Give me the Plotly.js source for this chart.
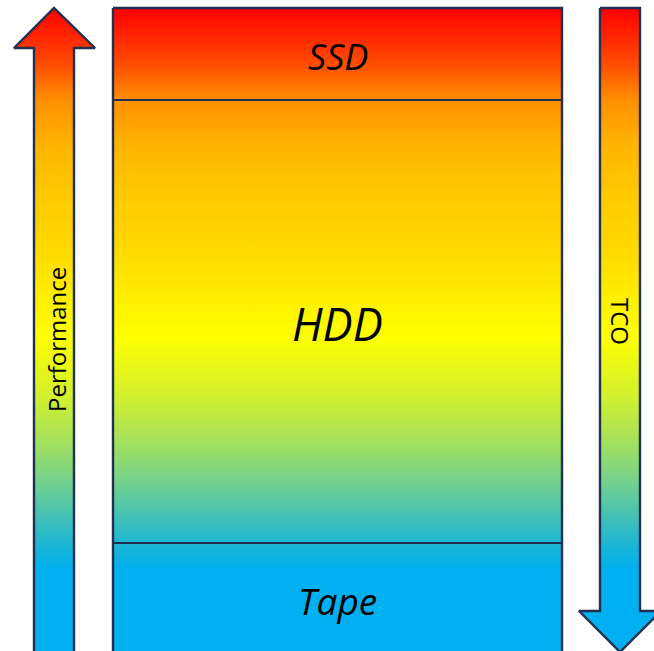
<!DOCTYPE html>
<html>
<head>
<meta charset="utf-8">
<script src="https://cdn.plot.ly/plotly-3.0.1.min.js"></script>
<style>html,body{margin:0;padding:0;background:#fff;}#chart{width:654px;height:651px;}</style>
</head>
<body>
<div id="chart"></div>
<script>
// Storage tiers (top to bottom) and their vertical boundaries
const tiers = ['SSD', 'HDD', 'Tape'];
const tierBounds = [8, 100, 543, 665];
const tierFontSizes = [36, 45, 37];
const arrowLabels = ['Performance', 'TCO'];

// Vertical colour ramp shared by all shapes
const gradStops = [0, 0.093, 0.165, 0.25, 0.34, 0.43, 0.52, 0.585, 0.69, 0.775, 0.845, 0.91, 0.96, 1.0];
const gradColors = ['#FF0000', '#FF4600', '#FF9000', '#FFB600', '#FFCB00', '#FFD900', '#FFF000', '#FFFF00',
                    '#D2F02E', '#A2E05E', '#72D08E', '#40C0B8', '#18B4D8', '#00B0F0'];
const colorscale = gradStops.map((s, i) => [s, gradColors[i]]);
const gradStart = 8, gradStop = 570;

const edge = '#1F3050';
const fg = {type: 'vertical', colorscale: colorscale, start: gradStart, stop: gradStop};

function poly(xs, ys) {
  return {type: 'scatter', mode: 'lines', x: xs.concat([xs[0]]), y: ys.concat([ys[0]]),
    fill: 'toself', fillgradient: fg, line: {color: edge, width: 2.4}, hoverinfo: 'skip', showlegend: false};
}

// Geometry
const box = {x0: 113, x1: 562};
const leftArrow = {x0: 34, x1: 74, hx0: 14, hx1: 95, tipX: 54, tipY: 8, headY: 48, end: 665};
const rightArrow = {x0: 600, x1: 640, hx0: 579, hx1: 661, tipX: 620, tipY: 652, headY: 611, top: 8};

const traces = [];
traces.push(poly(
  [leftArrow.x0, leftArrow.x0, leftArrow.hx0, leftArrow.tipX, leftArrow.hx1, leftArrow.x1, leftArrow.x1],
  [leftArrow.end, leftArrow.headY, leftArrow.headY, leftArrow.tipY, leftArrow.headY, leftArrow.headY, leftArrow.end]));
traces.push(poly(
  [rightArrow.x0, rightArrow.x1, rightArrow.x1, rightArrow.hx1, rightArrow.tipX, rightArrow.hx0, rightArrow.x0],
  [rightArrow.top, rightArrow.top, rightArrow.headY, rightArrow.headY, rightArrow.tipY, rightArrow.headY, rightArrow.headY]));
traces.push(poly([box.x0, box.x1, box.x1, box.x0],
  [tierBounds[0], tierBounds[0], tierBounds[tierBounds.length - 1], tierBounds[tierBounds.length - 1]]));
for (let i = 1; i < tierBounds.length - 1; i++) {
  traces.push({type: 'scatter', mode: 'lines', x: [box.x0, box.x1], y: [tierBounds[i], tierBounds[i]],
    line: {color: edge, width: 2}, hoverinfo: 'skip', showlegend: false});
}

const annotations = [];
const tierTextY = [56, 323, 600];
tiers.forEach((t, i) => {
  annotations.push({x: (box.x0 + box.x1) / 2, y: tierTextY[i], xref: 'x', yref: 'y', text: '<i>' + t + '</i>',
    showarrow: false, font: {family: 'Open Sans, sans-serif', size: tierFontSizes[i], color: '#000'}});
});
annotations.push({x: 56, y: 340, xref: 'x', yref: 'y', text: arrowLabels[0], textangle: -90, showarrow: false,
  font: {family: 'Open Sans, sans-serif', size: 24, color: '#000'}});
annotations.push({x: 621, y: 321, xref: 'x', yref: 'y', text: arrowLabels[1], textangle: 90, showarrow: false,
  font: {family: 'Open Sans, sans-serif', size: 24, color: '#000'}});

const layout = {
  width: 654, height: 651,
  margin: {l: 0, r: 0, t: 0, b: 0},
  paper_bgcolor: '#fff', plot_bgcolor: '#fff',
  xaxis: {range: [0, 654], visible: false, fixedrange: true},
  yaxis: {range: [651, 0], visible: false, fixedrange: true},
  annotations: annotations,
  showlegend: false
};

Plotly.newPlot('chart', traces, layout, {displayModeBar: false, staticPlot: true});
</script>
</body>
</html>
